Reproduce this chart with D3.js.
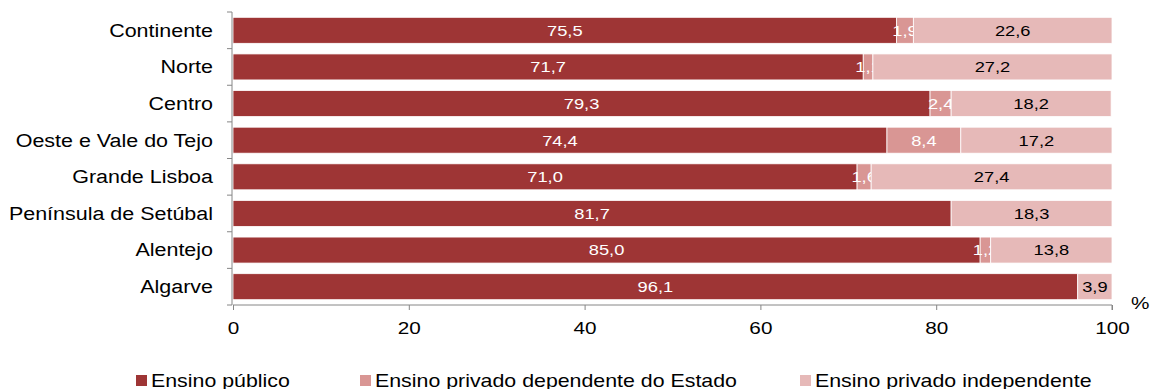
<!DOCTYPE html>
<html><head><meta charset="utf-8">
<script src="https://cdn.jsdelivr.net/npm/d3@7"></script>
<style>body{margin:0;background:#fff;} svg{display:block;font-family:"Liberation Sans",Arial,sans-serif;}</style>
</head><body>
<svg id="c" width="1151" height="389"></svg>
<script>
const categories = ["Continente","Norte","Centro","Oeste e Vale do Tejo","Grande Lisboa","Península de Setúbal","Alentejo","Algarve"];
const publico = [75.5,71.7,79.3,74.4,71.0,81.7,85.0,96.1];
const privDep = [1.9,1.1,2.4,8.4,1.6,0,1.2,0];
const privInd = [22.6,27.2,18.2,17.2,27.4,18.3,13.8,3.9];
const seriesNames = ["Ensino público","Ensino privado dependente do Estado","Ensino privado independente"];
const xTicks = [0,20,40,60,80,100];

const colors = ["#9E3535","#D99694","#E6B9B8"];
const labelColors = ["#fff","#fff","#000"];
const SX = 1.22; // horizontal text stretch seen in the reference
const svg = d3.select("#c");
const m = {left:233, right:1112, top:12, bottom:305};
const x = d3.scaleLinear().domain([0,100]).range([m.left,m.right]);
const yb = d3.scaleBand().domain(categories).range([m.top,m.bottom]);
const barH = yb.bandwidth()*0.71;
const barY = c => yb(c) + (yb.bandwidth()-barH)/2;

function stretchText(sel, xf, yf){
  sel.attr("transform",(d,i)=>`translate(${xf(d,i)},${yf(d,i)}) scale(${SX},1)`);
}

const rows = categories.map((c,i)=>({cat:c, publico:publico[i], privDep:privDep[i], privInd:privInd[i]}));
const stack = d3.stack().keys(["publico","privDep","privInd"])(rows);
const fmt = v => d3.format(".1f")(v).replace(".",",");

stack.forEach((s,si)=>{
  const g = svg.append("g");
  const data = s.filter(d=>d[1]-d[0]>0);
  g.selectAll("rect").data(data).join("rect")
    .attr("x",d=>x(d[0])).attr("y",d=>barY(d.data.cat))
    .attr("width",d=>x(d[1])-x(d[0])).attr("height",barH)
    .attr("fill",colors[si]).attr("stroke","#fff").attr("stroke-width",0.8);
  g.selectAll("text").data(data).join("text")
    .call(stretchText, d=>(x(d[0])+x(d[1]))/2, d=>barY(d.data.cat)+barH/2)
    .attr("dy","0.36em").attr("text-anchor","middle")
    .attr("font-size",15).attr("fill",labelColors[si])
    .text(d=>fmt(d[1]-d[0]));
});

// x axis
const xa = svg.append("g").attr("transform",`translate(0,${m.bottom})`)
  .call(d3.axisBottom(x).tickValues(xTicks).tickSize(5).tickPadding(12).tickFormat(d3.format("d")));
xa.selectAll("path,line").attr("stroke","#868686");
xa.select(".domain").attr("d",`M${m.left},0H${m.right}V5`);
xa.selectAll(".tick text").attr("font-size",17).attr("fill","#000")
  .attr("font-family","Liberation Sans, Arial, sans-serif")
  .attr("transform",`scale(${SX},1)`)
  .attr("x",0);

// y axis
const ya = svg.append("g").attr("transform",`translate(${m.left-1},0)`);
ya.append("line").attr("x1",0).attr("x2",0).attr("y1",m.top).attr("y2",m.bottom).attr("stroke","#868686");
const bounds = categories.map(c=>yb(c)).concat([m.bottom]);
ya.selectAll(".tk").data(bounds).join("line").attr("class","tk")
  .attr("x1",-5).attr("x2",0).attr("y1",d=>d).attr("y2",d=>d).attr("stroke","#868686");
ya.selectAll("text").data(categories).join("text")
  .call(stretchText, d=>-19, d=>yb(d)+yb.bandwidth()/2)
  .attr("dy","0.36em")
  .attr("text-anchor","end").attr("font-size",17.6).attr("fill","#000").text(d=>d);

svg.append("text").attr("transform",`translate(1131,309) scale(${SX},1)`)
  .attr("font-size",17).attr("fill","#000").text("%");

// legend
const legX = [136,360,800];
const lg = svg.selectAll(".leg").data(seriesNames).join("g").attr("class","leg")
  .attr("transform",(d,i)=>`translate(${legX[i]},375)`);
lg.append("rect").attr("width",11).attr("height",11).attr("fill",(d,i)=>colors[i]);
lg.append("text").attr("transform",`translate(15,11.5) scale(${SX},1)`)
  .attr("font-size",17.5).attr("fill","#000").text(d=>d);
</script>
</body></html>
